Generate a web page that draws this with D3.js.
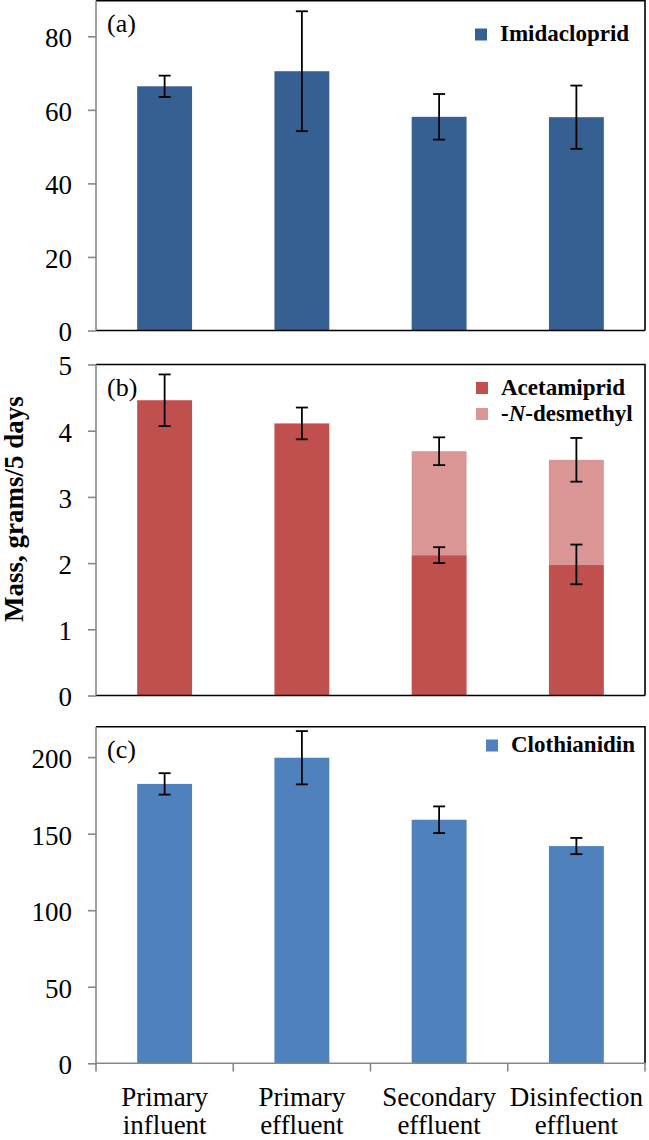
<!DOCTYPE html>
<html><head><meta charset="utf-8">
<script src="https://cdn.jsdelivr.net/npm/d3@7"></script>
</head><body style="margin:0;background:#fff"><div id="wrap" style="position:relative;width:649px;height:1140px"><svg id="c" width="649" height="1140" style="display:block;position:absolute;left:0;top:0"></svg></div>
<script>
const categories = [["Primary","influent"],["Primary","effluent"],["Secondary","effluent"],["Disinfection","effluent"]];
const imidacloprid = [66.4, 70.5, 58.1, 58.0];
const imidaclopridErr = [2.9, 16.3, 6.2, 8.6];
const acetamiprid = [4.46, 4.11, 2.12, 1.98];
const acetamipridErr = [0.39, 0.24, 0.12, 0.30];
const desmethyl = [0, 0, 1.57, 1.58];
const totalErr = [null, null, 0.21, 0.33];
const clothianidin = [182.5, 199.6, 159.1, 141.9];
const clothianidinErr = [7.0, 17.4, 8.7, 5.3];
const ticksA = [0, 20, 40, 60, 80];
const ticksB = [0, 1, 2, 3, 4, 5];
const ticksC = [0, 50, 100, 150, 200];

const svg = d3.select("#c");
const wrap = d3.select("#wrap");
const L = 96, R = 645;
const x = d3.scaleBand().domain(d3.range(categories.length)).range([L, R]).paddingInner(0.6).paddingOuter(0.3);
const gray = "#878787";
const ASC = 0.8375;

function label(parts, px, baseline, fs, opt = {}) {
  const d = wrap.append("div")
    .style("position","absolute").style("white-space","nowrap").style("line-height","1")
    .style("color","#000")
    .style("font-family","'Liberation Serif'", "important")
    .style("font-size", fs + "px")
    .style("font-weight", opt.bold ? "bold" : "normal");
  parts.forEach(p => d.append("span")
    .style("font-family","'Liberation Serif'", "important")
    .style("font-style", p.i ? "italic" : "normal").text(p.t));
  if (opt.rotate) {
    d.style("left", px + "px").style("top", baseline + "px")
     .style("transform-origin","0 0")
     .style("transform", `rotate(-90deg) translate(-50%, -${ASC}em)`);
  } else {
    const tx = opt.anchor === "middle" ? "-50%" : opt.anchor === "end" ? "-100%" : "0";
    d.style("left", px + "px").style("top", (baseline - ASC*fs) + "px")
     .style("transform", `translate(${tx},0)`);
  }
  return d;
}

function panel(cfg){
  const y = d3.scaleLinear().domain(cfg.domain).range(cfg.range);
  const g = svg.append("g");
  const top = cfg.frameTop, bot = cfg.range[0];
  cfg.series.forEach(s => {
    g.selectAll(null).data(s.values).enter().append("rect")
      .attr("x", (d,i) => x(i)).attr("width", x.bandwidth())
      .attr("y", (d,i) => y(s.base[i] + d)).attr("height", (d,i) => y(s.base[i]) - y(s.base[i] + d))
      .attr("fill", s.color);
  });
  g.append("path").attr("d", `M${L},${top}H${R}V${bot}`).attr("fill","none").attr("stroke","#000").attr("stroke-width",1.6);
  g.append("line").attr("x1",L).attr("x2",R).attr("y1",bot).attr("y2",bot).attr("stroke", cfg.bottomGray ? gray : "#000").attr("stroke-width",1.6);
  cfg.errors.forEach(e => {
    e.values.forEach((v,i) => {
      if (v == null) return;
      const cx = x(i) + x.bandwidth()/2;
      const c = e.center[i];
      const eg = g.append("g").attr("stroke","#000").attr("stroke-width",1.8);
      eg.append("line").attr("x1",cx).attr("x2",cx).attr("y1",y(c+v)).attr("y2",y(c-v));
      eg.append("line").attr("x1",cx-6).attr("x2",cx+6).attr("y1",y(c+v)).attr("y2",y(c+v));
      eg.append("line").attr("x1",cx-6).attr("x2",cx+6).attr("y1",y(c-v)).attr("y2",y(c-v));
    });
  });
  const ax = g.append("g").attr("transform",`translate(${L},0)`)
    .call(d3.axisLeft(y).tickValues(cfg.ticks).tickFormat("").tickSize(8).tickSizeOuter(0));
  ax.select(".domain").attr("stroke",gray).attr("stroke-width",1.6).attr("d",`M0,${bot}V${top}`);
  ax.selectAll(".tick line").attr("stroke",gray).attr("stroke-width",1.6);
  const fmt = d3.format("~g");
  cfg.ticks.forEach(t => label([{t: fmt(t)}], 72, y(t) + 11.5, 27, {anchor:"end"}));
  label([{t: cfg.label}], 107, top + 32, 26);
  cfg.legend.forEach(lg => {
    g.append("rect").attr("x",lg.x).attr("y",lg.y-13).attr("width",12).attr("height",12).attr("fill",lg.color);
    label(lg.parts, lg.x + 25, lg.y, 23, {bold:true});
  });
  return y;
}

panel({domain:[0,90], range:[330.5,-0.5], frameTop:0.8, ticks:ticksA, label:"(a)",
  series:[{values:imidacloprid, base:[0,0,0,0], color:"#376092"}],
  errors:[{values:imidaclopridErr, center:imidacloprid}],
  legend:[{x:475, y:41.5, color:"#376092", parts:[{t:"Imidacloprid"}]}]});

panel({domain:[0,5], range:[695.5,364.5], frameTop:364.5, ticks:ticksB, label:"(b)",
  series:[{values:acetamiprid, base:[0,0,0,0], color:"#C0504D"},
          {values:desmethyl, base:acetamiprid, color:"#D99694"}],
  errors:[{values:acetamipridErr, center:acetamiprid},
          {values:totalErr, center:acetamiprid.map((a,i)=>a+desmethyl[i])}],
  legend:[{x:476, y:395, color:"#C0504D", parts:[{t:"Acetamiprid"}]},
          {x:476, y:421, color:"#D99694", parts:[{t:"-"},{t:"N",i:true},{t:"-desmethyl"}]}]});

panel({domain:[0,220], range:[1063.3,726.5], frameTop:726.7, ticks:ticksC, label:"(c)", bottomGray:true,
  series:[{values:clothianidin, base:[0,0,0,0], color:"#4F81BD"}],
  errors:[{values:clothianidinErr, center:clothianidin}],
  legend:[{x:486, y:752.5, color:"#4F81BD", parts:[{t:"Clothianidin"}]}]});

const bounds = d3.range(categories.length+1).map(i => L + i*x.step());
svg.append("g").selectAll("line").data(bounds).enter().append("line")
  .attr("x1",d=>d).attr("x2",d=>d).attr("y1",1063.3).attr("y2",1071.5).attr("stroke",gray).attr("stroke-width",1.6);
categories.forEach((c,i) => {
  const cx = x(i) + x.bandwidth()/2;
  label([{t:c[0]}], cx, 1106.5, 27, {anchor:"middle"});
  label([{t:c[1]}], cx, 1135, 27, {anchor:"middle"});
});

label([{t:"Mass, grams/5 days"}], 23.5, 509, 27, {bold:true, rotate:true});
</script></body></html>
